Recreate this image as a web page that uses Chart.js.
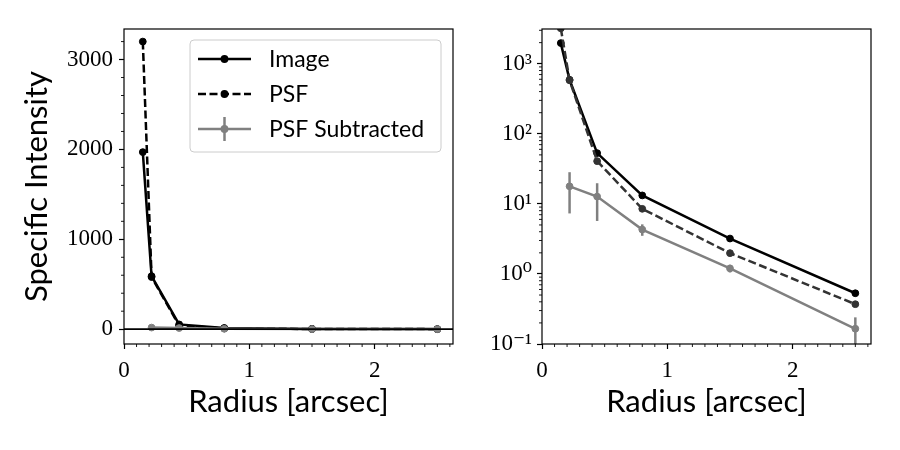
<!DOCTYPE html>
<html><head><meta charset="utf-8">
<script src="https://cdn.jsdelivr.net/npm/chart.js@4.4.1/dist/chart.umd.min.js"></script>
<style>
html,body{margin:0;padding:0;background:#fff;width:900px;height:450px;overflow:hidden}
#cL{position:absolute;left:0;top:0}
#cR{position:absolute;left:470px;top:0}
</style></head><body>
<canvas id="cL" width="470" height="450"></canvas>
<canvas id="cR" width="430" height="450"></canvas>
<script>
// ---- data ----
const radius    = [0.15, 0.22, 0.44, 0.80, 1.50, 2.50];
const imageI    = [1970, 590, 53, 13.2, 3.2, 0.53];
const psfI      = [3200, 580, 40.7, 8.5, 1.98, 0.37];
const subRadius = [0.22, 0.44, 0.80, 1.50, 2.50];
const subI      = [17.8, 12.7, 4.3, 1.2, 0.165];
const subErr    = [10.5, 7.0, 0.8, 0.15, 0.075];
const xTicks    = [0, 1, 2];
const linTicks  = [0, 1000, 2000, 3000];
const logTicks  = [0.1, 1, 10, 100, 1000];
const seriesNames = ['Image', 'PSF', 'PSF Subtracted'];
const xLabel = 'Radius [arcsec]';
const yLabel = 'Specific Intensity';

const SERIF = '"Liberation Serif", "DejaVu Serif", serif';
const SANS = 'Lato, "Open Sans", sans-serif';
const C_IMG = '#000000', C_PSF_L = '#000000', C_PSF_R = '#333333', C_SUB = '#808080';
const LW = 2.5, PR = 3.4, DASH = [8, 3.5];

function pts(xs, ys){ return xs.map((x,i)=>({x:x, y:ys[i]})); }
function supers(n){
  const m = {'-':'\u207B','0':'\u2070','1':'\u00B9','2':'\u00B2','3':'\u00B3','4':'\u2074','5':'\u2075','6':'\u2076','7':'\u2077','8':'\u2078','9':'\u2079'};
  return String(n).split('').map(c=>m[c]).join('');
}

// minor tick values (axis decoration)
function linMinor(min, max, step, majorStep){
  const out=[]; for(let v=Math.ceil(min/step)*step; v<=max+1e-9; v+=step){
    const r=Math.round(v/step)*step; if(Math.abs(r/majorStep-Math.round(r/majorStep))>1e-6) out.push(r);
  } return out;
}
function logMinor(min, max){
  const out=[]; for(let e=-2;e<=4;e++){ for(let k=2;k<=9;k++){ const v=k*Math.pow(10,e); if(v>=min&&v<=max) out.push(v);} } return out;
}

const axesDeco = {
  id:'axesDeco',
  beforeDatasetDraw(chart, args){
    const ds = chart.data.datasets[args.index];
    if(!ds.errY) return;
    const ctx=chart.ctx, a=chart.chartArea, xs=chart.scales.x, ys=chart.scales.y;
    ctx.save(); ctx.beginPath(); ctx.rect(a.left,a.top,a.right-a.left,a.bottom-a.top); ctx.clip();
    ctx.strokeStyle=ds.borderColor; ctx.lineWidth=LW;
    ds.data.forEach((p,i)=>{
      const e=ds.errY[i]; let lo=p.y-e, hi=p.y+e;
      if(ys.type==='logarithmic' && lo<=0) lo=ys.min*0.5;
      const px=xs.getPixelForValue(p.x);
      ctx.beginPath(); ctx.moveTo(px, ys.getPixelForValue(lo)); ctx.lineTo(px, ys.getPixelForValue(hi)); ctx.stroke();
    });
    ctx.restore();
  },
  afterDatasetsDraw(chart, args, opts){
    const ctx=chart.ctx, a=chart.chartArea, xs=chart.scales.x, ys=chart.scales.y;
    ctx.save();
    if(opts.zeroLine){
      const py=ys.getPixelForValue(0);
      ctx.strokeStyle='#000'; ctx.lineWidth=1.6;
      ctx.beginPath(); ctx.moveTo(a.left,py); ctx.lineTo(a.right,py); ctx.stroke();
    }
    ctx.strokeStyle='#000'; ctx.lineWidth=1.2;
    ctx.strokeRect(a.left, a.top, a.right-a.left, a.bottom-a.top);
    ctx.lineWidth=0.9;
    (opts.xMinor||[]).forEach(v=>{ const px=xs.getPixelForValue(v); ctx.beginPath(); ctx.moveTo(px,a.bottom); ctx.lineTo(px,a.bottom+3); ctx.stroke(); });
    (opts.yMinor||[]).forEach(v=>{ const py=ys.getPixelForValue(v); ctx.beginPath(); ctx.moveTo(a.left,py); ctx.lineTo(a.left-3,py); ctx.stroke(); });
    ctx.restore();
  },
  afterDraw(chart, args, opts){
    if(!opts.legend) return;
    const ctx=chart.ctx; const L=opts.legend;
    ctx.save();
    const x0=L.x, y0=L.y, w=L.w, h=L.h, r=4;
    ctx.beginPath();
    ctx.moveTo(x0+r,y0); ctx.lineTo(x0+w-r,y0); ctx.quadraticCurveTo(x0+w,y0,x0+w,y0+r);
    ctx.lineTo(x0+w,y0+h-r); ctx.quadraticCurveTo(x0+w,y0+h,x0+w-r,y0+h);
    ctx.lineTo(x0+r,y0+h); ctx.quadraticCurveTo(x0,y0+h,x0,y0+h-r);
    ctx.lineTo(x0,y0+r); ctx.quadraticCurveTo(x0,y0,x0+r,y0); ctx.closePath();
    ctx.fillStyle='rgba(255,255,255,0.8)'; ctx.fill();
    ctx.strokeStyle='#cccccc'; ctx.lineWidth=1; ctx.stroke();
    const dss=chart.data.datasets;
    [0,1,2].forEach((di,k)=>{
      const ds=dss[di]; const cy=y0+L.row0+k*L.rowH;
      const lx0=x0+8, lx1=x0+61, cx=(lx0+lx1)/2;
      ctx.strokeStyle=ds.borderColor; ctx.lineWidth=LW; ctx.setLineDash(ds.borderDash||[]);
      ctx.beginPath(); ctx.moveTo(lx0,cy); ctx.lineTo(lx1,cy); ctx.stroke(); ctx.setLineDash([]);
      if(ds.errY){ ctx.beginPath(); ctx.moveTo(cx,cy-12); ctx.lineTo(cx,cy+12); ctx.stroke(); }
      ctx.fillStyle=ds.pointBackgroundColor; ctx.beginPath(); ctx.arc(cx,cy,PR+0.5,0,Math.PI*2); ctx.fill();
      ctx.fillStyle='#000'; ctx.font='23px '+SANS; ctx.textBaseline='middle'; ctx.textAlign='left';
      ctx.fillText(ds.label, x0+79, cy+1);
    });
    ctx.restore();
  }
};

function lineDs(label, data, color, dash, order, extra){
  return Object.assign({label, data, borderColor:color, backgroundColor:color,
    pointBackgroundColor:color, pointBorderColor:color, pointRadius:PR, pointBorderWidth:1,
    borderWidth:LW, borderDash:dash||[], tension:0, fill:false, order, clip:0, showLine:true}, extra||{});
}

function xScale(){
  return {type:'linear', min:0, max:2.625,
    afterBuildTicks(s){ s.ticks = xTicks.map(v=>({value:v})); },
    afterFit(s){ s.height = 106; },
    ticks:{font:{family:SERIF,size:23}, color:'#000', padding:8, maxRotation:0, callback:v=>String(v)},
    grid:{display:true, drawOnChartArea:false, drawTicks:true, tickLength:5, tickWidth:1.2, tickColor:'#000'},
    border:{display:false},
    title:{display:true, text:xLabel, color:'#000', font:{family:SANS,size:31}, padding:{top:0,bottom:29}}
  };
}

Chart.register(axesDeco);

new Chart(document.getElementById('cL'), {
  type:'scatter',
  data:{datasets:[
    lineDs(seriesNames[0], pts(radius,imageI), C_IMG, [], 3),
    lineDs(seriesNames[1], pts(radius,psfI), C_PSF_L, DASH, 2),
    lineDs(seriesNames[2], pts(subRadius,subI), C_SUB, [], 1, {errY:subErr})
  ]},
  options:{
    responsive:false, animation:false, events:[],
    layout:{padding:{left:0, top:29, right:17, bottom:0}},
    plugins:{legend:{display:false}, tooltip:{enabled:false},
      axesDeco:{zeroLine:true, xMinor:linMinor(0,2.625,0.1,1), yMinor:linMinor(-165,3340,200,1000),
        legend:{x:190, y:40, w:251, h:112, row0:19, rowH:35}}},
    scales:{
      x:xScale(),
      y:{type:'linear', min:-165, max:3340,
        afterBuildTicks(s){ s.ticks = linTicks.map(v=>({value:v})); },
        afterFit(s){ s.width = 124; },
        ticks:{font:{family:SERIF,size:23}, color:'#000', padding:6, callback:v=>String(v)},
        grid:{display:true, drawOnChartArea:false, drawTicks:true, tickLength:5, tickWidth:1.2, tickColor:'#000'},
        border:{display:false},
        title:{display:true, text:yLabel, color:'#000', font:{family:SANS,size:31}, padding:{top:18,bottom:0}}
      }
    }
  }
});

new Chart(document.getElementById('cR'), {
  type:'scatter',
  data:{datasets:[
    lineDs(seriesNames[0], pts(radius,imageI), C_IMG, [], 3),
    lineDs(seriesNames[1], pts(radius,psfI), C_PSF_R, DASH, 2),
    lineDs(seriesNames[2], pts(subRadius,subI), C_SUB, [], 1, {errY:subErr})
  ]},
  options:{
    responsive:false, animation:false, events:[],
    layout:{padding:{left:0, top:29, right:29, bottom:0}},
    plugins:{legend:{display:false}, tooltip:{enabled:false},
      axesDeco:{zeroLine:false, xMinor:linMinor(0,2.625,0.1,1), yMinor:logMinor(0.1,3130)}},
    scales:{
      x:xScale(),
      y:{type:'logarithmic', min:0.1, max:3130,
        afterBuildTicks(s){ s.ticks = logTicks.map(v=>({value:v})); },
        afterFit(s){ s.width = 72; },
        ticks:{font:{family:SERIF,size:23}, color:'#000', padding:5,
          callback:v=>'10'+supers(Math.round(Math.log10(v)))},
        grid:{display:true, drawOnChartArea:false, drawTicks:true, tickLength:5, tickWidth:1.2, tickColor:'#000'},
        border:{display:false},
        title:{display:false}
      }
    }
  }
});
</script>
</body></html>
